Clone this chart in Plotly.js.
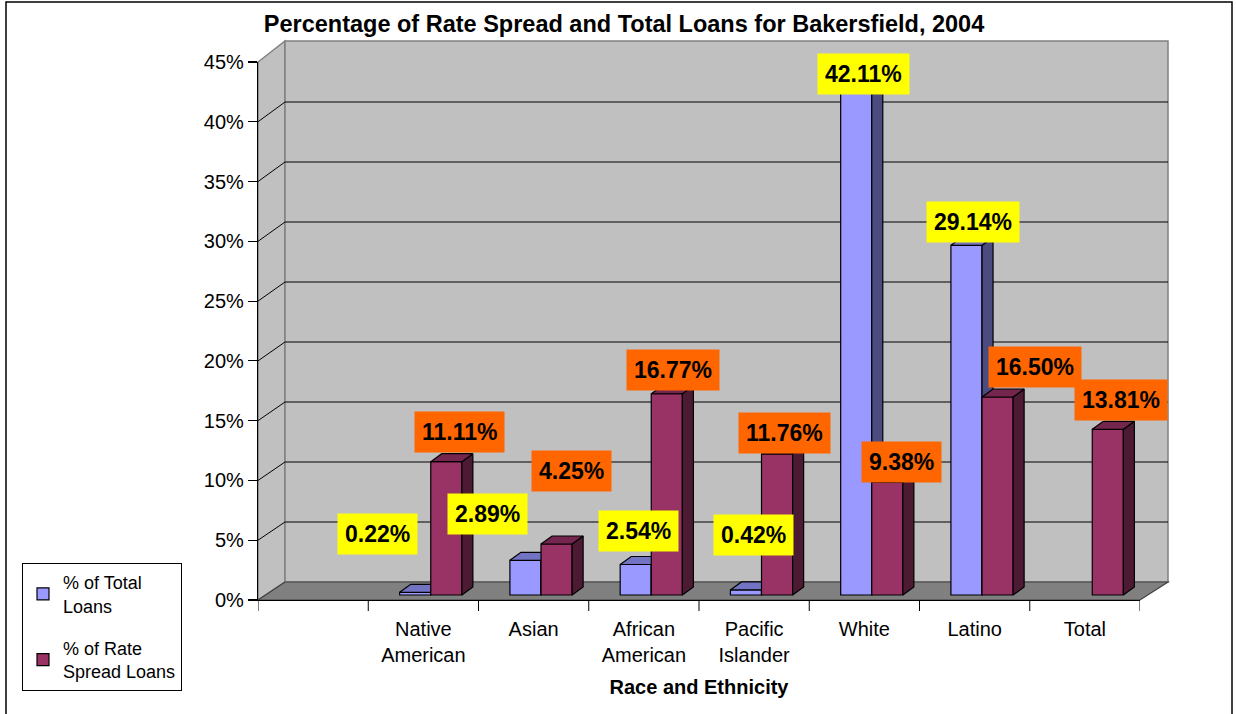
<!DOCTYPE html>
<html>
<head>
<meta charset="utf-8">
<script src="https://cdn.plot.ly/plotly-3.0.1.min.js"></script>
<style>html,body{margin:0;padding:0;background:#fff;}#chart{width:1236px;height:714px;}</style>
</head>
<body>
<div id="chart"></div>
<script>
// ---------------- DATA ----------------
const categories = ["", "Native American", "Asian", "African American", "Pacific Islander", "White", "Latino", "Total"];
const tickLabels = ["", "Native<br>American", "Asian", "African<br>American", "Pacific<br>Islander", "White", "Latino", "Total"];
const totalLoans = [null, 0.22, 2.89, 2.54, 0.42, 42.11, 29.14, null];      // % of Total Loans
const rateSpreadLoans = [null, 11.11, 4.25, 16.77, 11.76, 9.38, 16.50, 13.81]; // % of Rate Spread Loans
const seriesNames = ["% of Total<br>Loans", "% of Rate<br>Spread Loans"];
const yTicks = [0, 5, 10, 15, 20, 25, 30, 35, 40, 45];

// ---------------- LAYOUT / STYLE ----------------
const FONT = "Arial, 'Liberation Sans', sans-serif";
const L = 258, R = 1140, T = 62, B = 600;        // front plot frame (px)
const PW = R - L, PH = B - T;
const DEPTH_X = 27;                                // wall depth offset (px)
const BACK_TOP = 41, BACK_BOT = 582, BACK_RIGHT = 1168;
const BACK_SCALE = 12.0, FRONT_SCALE = (B - T) / 45;
const BAR_ZERO = 595;                              // px where bars stand
const px2x = p => (p - L) / PW;
const py2y = p => (B - p) / PH;
const yMin = (BAR_ZERO - B) / BACK_SCALE, yMax = (BAR_ZERO - T) / BACK_SCALE;

const idx = categories.map((_, i) => i);
const barW = 0.282, offBlue = -0.215, offMaroon = 0.067;
const dX = 0.1, dY = 8 / BACK_SCALE;               // 3D face depth in data units

const colors = {
  blue: {front: "#9999FF", top: "#7373C4", side: "#4B4B80", label: "#FFFF00"},
  maroon: {front: "#993366", top: "#74264F", side: "#4C1A33", label: "#FF6600"}
};

// label pixel shifts relative to (category centre, value)
const blueShift = [null, [-46, 58], [-46, 46], [-5, 34], [-1, 55], [-1, 16], [-2, 23], null];
const maroonShift = [null, [36, 30], [38, 73], [29, 24], [30, 21], [37, 20], [60, 30], [36, 29]];

function faces(vals, off) {
  const side = {x: [], y: []}, top = {x: [], y: []};
  vals.forEach((v, i) => {
    if (v === null) return;
    const x0 = i + off, x1 = i + off + barW;
    side.x.push(x1, x1 + dX, x1 + dX, x1, x1, null);
    side.y.push(0, dY, v + dY, v, 0, null);
    top.x.push(x0, x0 + dX, x1 + dX, x1, x0, null);
    top.y.push(v, v + dY, v + dY, v, v, null);
  });
  return {side, top};
}

function seriesTraces(vals, off, c, name, xa, ya, grp) {
  const f = faces(vals, off);
  return [
    {type: "bar", x: idx, y: vals, offset: off, width: barW, name: name,
     legendgroup: grp, xaxis: xa, yaxis: ya,
     marker: {color: c.front, line: {color: "#000", width: 1.2}}, hoverinfo: "skip"},
    {type: "scatter", mode: "lines", x: f.side.x, y: f.side.y, fill: "toself",
     fillcolor: c.side, line: {color: "#000", width: 1.2}, showlegend: false,
     xaxis: xa, yaxis: ya, hoverinfo: "skip"},
    {type: "scatter", mode: "lines", x: f.top.x, y: f.top.y, fill: "toself",
     fillcolor: c.top, line: {color: "#000", width: 1.2}, showlegend: false,
     xaxis: xa, yaxis: ya, hoverinfo: "skip"}
  ];
}

const data = [
  ...seriesTraces(totalLoans, offBlue, colors.blue, seriesNames[0], "x", "y", "g1"),
  ...seriesTraces(rateSpreadLoans, offMaroon, colors.maroon, seriesNames[1], "x2", "y2", "g2")
];

// ---------------- DECORATION SHAPES ----------------
const shapes = [];
const P = (x, y) => px2x(x).toFixed(5) + "," + py2y(y).toFixed(5);
// outer chart border
shapes.push({type: "rect", xref: "paper", yref: "paper", x0: px2x(6), x1: px2x(1232),
  y0: py2y(730), y1: py2y(2), line: {color: "#000", width: 1.5}, fillcolor: "rgba(0,0,0,0)", layer: "below"});
// side wall
shapes.push({type: "path", xref: "paper", yref: "paper", layer: "below",
  path: `M${P(L, B)} L${P(L, T)} L${P(L + DEPTH_X, BACK_TOP)} L${P(L + DEPTH_X, BACK_BOT)} Z`,
  fillcolor: "#C0C0C0", line: {color: "#808080", width: 1.5}});
// back wall
shapes.push({type: "rect", xref: "paper", yref: "paper", layer: "below",
  x0: px2x(L + DEPTH_X), x1: px2x(BACK_RIGHT), y0: py2y(BACK_BOT), y1: py2y(BACK_TOP),
  fillcolor: "#C0C0C0", line: {color: "#808080", width: 1.5}});
// gridlines
yTicks.filter(v => v > 0 && v < 45).forEach(v => {
  const yb = BACK_BOT - BACK_SCALE * v, yf = B - FRONT_SCALE * v;
  shapes.push({type: "line", xref: "paper", yref: "paper", layer: "below",
    x0: px2x(L + DEPTH_X), x1: px2x(BACK_RIGHT), y0: py2y(yb), y1: py2y(yb),
    line: {color: "#000", width: 1}});
  shapes.push({type: "line", xref: "paper", yref: "paper", layer: "below",
    x0: px2x(L), x1: px2x(L + DEPTH_X), y0: py2y(yf), y1: py2y(yb),
    line: {color: "#000", width: 1}});
});
// floor
shapes.push({type: "path", xref: "paper", yref: "paper", layer: "below",
  path: `M${P(L, B)} L${P(L + DEPTH_X, BACK_BOT)} L${P(BACK_RIGHT, BACK_BOT)} L${P(R, B)} Z`,
  fillcolor: "#808080", line: {color: "#404040", width: 1.2}});
// category boundary ticks
for (let k = 0; k <= categories.length; k++) {
  shapes.push({type: "line", xref: "x", yref: "paper", x0: k - 0.5, x1: k - 0.5,
    y0: 0, y1: py2y(611), line: {color: "#000", width: 1}});
}

// ---------------- LABELS ----------------
const annotations = [];
function addLabels(vals, shifts, bg) {
  vals.forEach((v, i) => {
    if (v === null || !shifts[i]) return;
    annotations.push({x: i, y: v, xref: "x", yref: "y", text: "<b>" + v.toFixed(2) + "%</b>",
      showarrow: false, xanchor: "center", yanchor: "middle",
      xshift: shifts[i][0], yshift: shifts[i][1], bgcolor: bg, borderpad: 7,
      font: {family: FONT, size: 23, color: "#000"}});
  });
}
addLabels(totalLoans, blueShift, colors.blue.label);
addLabels(rateSpreadLoans, maroonShift, colors.maroon.label);

const layout = {
  width: 1236, height: 714,
  margin: {l: L, r: 1236 - R, t: T, b: 714 - B, pad: 0},
  paper_bgcolor: "#fff", plot_bgcolor: "rgba(0,0,0,0)",
  font: {family: FONT, color: "#000"},
  hovermode: false,
  barmode: "overlay",
  title: {text: "<b>Percentage of Rate Spread and Total Loans for Bakersfield, 2004</b>",
    font: {family: FONT, size: 23.5, color: "#000"},
    xref: "container", x: 624 / 1236, xanchor: "center",
    yref: "container", y: 1 - 24 / 714, yanchor: "middle"},
  xaxis: {range: [-0.5, categories.length - 0.5], tickvals: idx, ticktext: tickLabels,
    ticks: "", showgrid: false, zeroline: false, showline: true, linecolor: "#000", linewidth: 1.2,
    tickfont: {family: FONT, size: 20, color: "#000"}, ticklabelstandoff: 11,
    title: {text: "<b>Race and Ethnicity</b>", font: {family: FONT, size: 20, color: "#000"}, standoff: 14},
    fixedrange: true},
  yaxis: {range: [yMin, yMax], tickvals: yTicks.map(v => (BAR_ZERO - (B - FRONT_SCALE * v)) / BACK_SCALE),
    ticktext: yTicks.map(v => v + "%"), ticks: "outside", ticklen: 9, tickcolor: "#000", tickwidth: 1.2,
    showgrid: false, zeroline: false, showline: true, linecolor: "#000", linewidth: 1.2,
    tickfont: {family: FONT, size: 20, color: "#000"}, fixedrange: true},
  xaxis2: {overlaying: "x", range: [-0.5, categories.length - 0.5], visible: false, fixedrange: true},
  yaxis2: {overlaying: "y", range: [yMin, yMax], visible: false, fixedrange: true},
  showlegend: true,
  legend: {x: px2x(22), y: py2y(563), xanchor: "left", yanchor: "top", xref: "paper", yref: "paper",
    bgcolor: "#fff", bordercolor: "#000", borderwidth: 1, font: {family: FONT, size: 18, color: "#000"},
    itemwidth: 30, traceorder: "grouped", tracegroupgap: 16},
  shapes: shapes,
  annotations: annotations
};

Plotly.newPlot("chart", data, layout, {displayModeBar: false, staticPlot: true});
</script>
</body>
</html>
